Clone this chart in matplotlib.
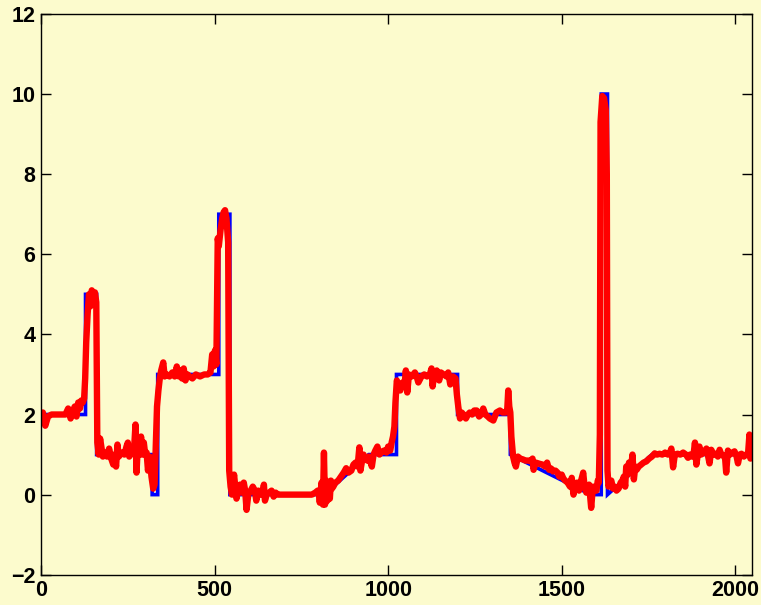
import numpy as np
import matplotlib
matplotlib.use("Agg")
import matplotlib.pyplot as plt

# piecewise true signal (breakpoints, values)
true_x = [0, 128, 128, 160, 160, 320, 320, 336, 336, 512, 512, 544, 544, 816,
          944, 1024, 1024, 1200, 1200, 1352, 1352, 1584, 1614, 1614, 1632, 1632,
          1760, 2047]
true_y = [2, 2, 5, 5, 1, 1, 0, 0, 3, 3, 7, 7, 0, 0,
          1, 1, 3, 3, 2, 2, 1, 0, 0, 10, 10, 0,
          1, 1]

# noisy reconstruction
recon = [
    (0, 1.82), (5, 2.05), (12, 1.72), (20, 1.95), (30, 2.0), (50, 2.0), (70, 2.0),
    (78, 2.15), (85, 1.9), (92, 2.1), (97, 2.2), (102, 1.95), (107, 2.3), (112, 2.15),
    (116, 2.35), (120, 2.3), (124, 2.4), (127, 2.9), (130, 3.8), (134, 4.5), (138, 5.0),
    (142, 4.7), (146, 5.1), (150, 4.9), (155, 5.05), (159, 4.8), (162, 1.3), (166, 1.0),
    (170, 1.4), (178, 0.95), (184, 1.05), (190, 0.95), (196, 1.15), (202, 0.9),
    (208, 0.75), (212, 1.0), (216, 0.7), (220, 1.25), (224, 0.95), (232, 1.05),
    (240, 1.0), (246, 1.2), (250, 1.3), (254, 0.95), (262, 1.05), (268, 1.15),
    (272, 1.75), (275, 0.55), (279, 1.3), (284, 1.0), (288, 1.45), (292, 1.0),
    (296, 1.3), (300, 1.0), (304, 1.05), (308, 0.6), (313, 0.95), (318, 0.45),
    (323, 0.15), (327, 0.25), (331, 1.4), (334, 2.2), (338, 2.6), (342, 2.9),
    (346, 3.1), (352, 3.3), (356, 2.95), (362, 3.0), (370, 2.95), (378, 3.05),
    (385, 2.95), (391, 3.2), (397, 2.95), (402, 3.1), (406, 2.9), (411, 3.15),
    (416, 2.85), (422, 3.0), (428, 2.95), (436, 2.9), (446, 3.0), (458, 2.95),
    (470, 3.0), (480, 3.0), (488, 3.05), (493, 3.5), (497, 3.2), (501, 3.6),
    (505, 3.25), (509, 6.4), (512, 6.2), (517, 6.6), (522, 6.9), (526, 7.05),
    (530, 7.1), (534, 6.9), (539, 6.3), (542, 0.6), (546, 0.2), (550, 0.0),
    (556, 0.5), (563, -0.1), (568, 0.15), (573, 0.25), (578, 0.05), (584, 0.3),
    (588, 0.1), (592, -0.38), (597, 0.0), (604, 0.1), (610, 0.2), (616, 0.1),
    (620, -0.15), (626, 0.1), (632, 0.0), (638, 0.05), (642, 0.25), (645, -0.15),
    (650, 0.0), (657, 0.05), (664, 0.1), (670, -0.05), (676, 0.05), (682, 0.0),
    (690, 0.0), (700, 0.0), (720, 0.0), (740, 0.0), (760, 0.0), (780, 0.0),
    (790, 0.05), (797, 0.1), (800, 0.05), (803, -0.2), (808, 0.3), (812, -0.25),
    (815, 1.05), (818, -0.25), (821, 0.35), (825, -0.15), (829, 0.3), (832, -0.1),
    (835, 0.35), (838, 0.15), (842, 0.2), (848, 0.3), (856, 0.35), (865, 0.46),
    (872, 0.55), (879, 0.66), (886, 0.55), (894, 0.6), (900, 0.75), (906, 0.8),
    (912, 0.7), (917, 1.18), (920, 0.6), (925, 0.85), (929, 1.0), (934, 0.9),
    (940, 0.85), (944, 0.95), (948, 0.85), (953, 0.7), (958, 1.0), (963, 1.1),
    (969, 1.2), (975, 1.0), (980, 1.05), (988, 1.1), (995, 1.05), (1000, 1.2),
    (1006, 1.1), (1010, 1.3), (1014, 1.45), (1018, 1.7), (1021, 2.3), (1025, 2.85),
    (1029, 2.75), (1035, 2.6), (1042, 2.8), (1047, 2.7), (1051, 3.1), (1055, 2.55),
    (1060, 3.0), (1068, 2.95), (1077, 3.05), (1082, 2.95), (1087, 2.8), (1096, 2.95),
    (1104, 3.0), (1112, 2.95), (1120, 3.0), (1125, 3.15), (1128, 2.7), (1134, 3.05),
    (1140, 3.1), (1147, 2.85), (1152, 3.05), (1160, 3.0), (1168, 2.95), (1173, 3.05),
    (1179, 2.75), (1187, 2.95), (1194, 2.9), (1198, 2.5), (1202, 2.2), (1207, 1.9),
    (1212, 2.05), (1217, 2.0), (1224, 1.9), (1230, 2.0), (1235, 2.05), (1242, 2.0),
    (1248, 2.1), (1255, 2.1), (1262, 1.95), (1268, 2.0), (1274, 2.15), (1280, 2.0),
    (1287, 1.95), (1293, 1.9), (1303, 1.85), (1312, 2.05), (1322, 2.1), (1330, 2.05),
    (1338, 2.05), (1343, 2.1), (1346, 2.6), (1349, 2.2), (1352, 2.05), (1355, 1.45),
    (1360, 0.95), (1364, 0.8), (1368, 0.7), (1374, 0.95), (1380, 0.9), (1388, 0.88),
    (1396, 0.85), (1405, 0.85), (1412, 0.83), (1416, 0.9), (1419, 0.62), (1425, 0.8),
    (1436, 0.77), (1445, 0.75), (1452, 0.7), (1458, 0.8), (1464, 0.62), (1470, 0.65),
    (1475, 0.58), (1482, 0.6), (1488, 0.55), (1493, 0.45), (1500, 0.5), (1505, 0.4),
    (1510, 0.35), (1517, 0.3), (1524, 0.2), (1529, 0.42), (1534, 0.0), (1539, 0.25),
    (1544, 0.3), (1550, 0.1), (1556, 0.35), (1562, 0.55), (1566, 0.2), (1571, 0.05),
    (1575, 0.15), (1579, 0.25), (1585, -0.33), (1590, 0.2), (1595, 0.1), (1600, 0.1),
    (1604, 0.35), (1607, 0.3), (1610, 1.5), (1612, 9.3), (1617, 9.95), (1622, 9.9),
    (1627, 9.6), (1630, 8.0), (1632, 0.6), (1635, 0.2), (1639, 0.3), (1643, 0.35),
    (1648, 0.15), (1652, 0.2), (1658, 0.1), (1664, 0.15), (1670, 0.3), (1675, 0.35),
    (1679, 0.45), (1683, 0.2), (1686, 0.7), (1690, 0.5), (1694, 0.8), (1699, 0.6),
    (1704, 1.0), (1708, 0.38), (1712, 0.7), (1716, 0.62), (1722, 0.7), (1729, 0.75),
    (1736, 0.8), (1744, 0.83), (1752, 0.9), (1760, 0.95), (1768, 1.03), (1775, 1.0),
    (1782, 1.02), (1790, 1.0), (1798, 1.05), (1806, 1.0), (1812, 1.05), (1816, 1.15),
    (1821, 0.68), (1826, 1.0), (1834, 1.02), (1842, 1.0), (1850, 1.05), (1858, 1.0),
    (1864, 0.92), (1870, 1.0), (1876, 0.95), (1880, 1.0), (1884, 1.3), (1888, 0.75),
    (1893, 1.05), (1897, 1.2), (1902, 1.0), (1908, 1.05), (1913, 1.1), (1917, 1.15),
    (1921, 1.0), (1926, 0.78), (1931, 1.12), (1938, 1.0), (1945, 1.02), (1950, 0.95),
    (1955, 1.12), (1960, 1.0), (1966, 0.98), (1971, 0.9), (1974, 0.55), (1979, 1.1),
    (1985, 1.0), (1992, 1.05), (1998, 1.08), (2004, 0.95), (2008, 0.78), (2013, 1.0),
    (2018, 1.02), (2025, 0.95), (2031, 1.0), (2037, 1.02), (2041, 1.5), (2044, 0.9),
    (2047, 1.15),
]
recon_x = [p[0] for p in recon]
recon_y = [p[1] for p in recon]

xticks = [0, 500, 1000, 1500, 2000]
yticks = [-2, 0, 2, 4, 6, 8, 10, 12]

bg = "#fcfbcd"
plt.rcParams["font.family"] = ["Liberation Sans", "DejaVu Sans"]

fig = plt.figure(figsize=(7.61, 6.05), dpi=100, facecolor=bg)
ax = fig.add_axes([0.054, 0.05, 0.934, 0.927], facecolor=bg)

ax.plot(true_x, true_y, color="#0000ff", lw=2.6, solid_joinstyle="miter")
ax.plot(recon_x, recon_y, color="#ff0000", lw=4.6, solid_joinstyle="round",
        solid_capstyle="round")

ax.set_xlim(0, 2048)
ax.set_ylim(-2, 12)
ax.set_xticks(xticks)
ax.set_yticks(yticks)
ax.tick_params(direction="in", length=7, width=1, top=True, right=True,
               labelsize=15.5, pad=4)
for lab in ax.get_xticklabels() + ax.get_yticklabels():
    lab.set_fontweight("bold")
for s in ax.spines.values():
    s.set_linewidth(1)

fig.savefig("out.png", dpi=100, facecolor=bg)
